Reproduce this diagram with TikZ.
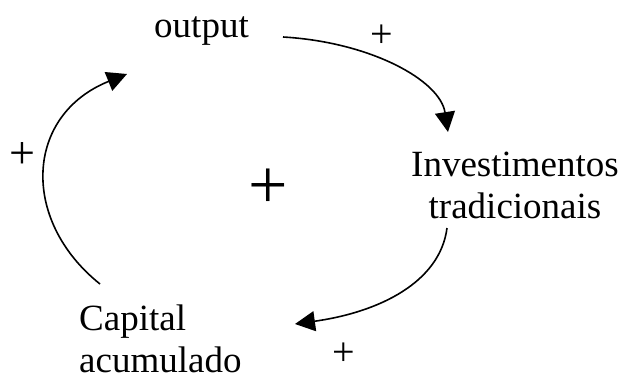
\documentclass[tikz,border=0pt]{standalone}
\usepackage{fontspec}
\setmainfont{Liberation Serif}
\usetikzlibrary{arrows.meta}
\begin{document}
\begin{tikzpicture}[x=1pt,y=-1pt,
  label text/.style={font=\fontsize{37}{41.5}\selectfont, inner sep=0pt},
  sign/.style={font=\fontsize{#1}{#1}\selectfont, inner sep=0pt},
  link/.style={line width=1.6pt, -{Triangle[length=20pt,width=20pt]}}]
  \useasboundingbox (0,0) rectangle (623,375);
  % variables of the loop
  \node[label text, anchor=base] (out) at (201.5,37) {output};
  \node[label text, anchor=north, align=center] (inv) at (515,152) {Investimentos\\tradicionais};
  \node[label text, anchor=north west, align=left] (cap) at (79,305) {Capital\\acumulado};
  % link polarities and loop polarity
  \node[sign=40] (p1) at (382,36) {+};
  \node[sign=40] (p2) at (344,354) {+};
  \node[sign=46] (p3) at (22,156) {+};
  \node[sign=70] (loop) at (268,189) {+};
  % end points of the causal links
  \coordinate (a0) at (283,37);
  \coordinate (a1) at (448,132);
  \coordinate (b0) at (447,228);
  \coordinate (b1) at (295,324);
  \coordinate (c0) at (100,284);
  \coordinate (c1) at (127,74);
  \draw[link] (a0) .. controls (370,42) and (440,80) .. (a1);
  \draw[link] (b0) .. controls (440,282) and (380,312) .. (b1);
  \draw[link] (c0) .. controls (20,220) and (25,115) .. (c1);
\end{tikzpicture}
\end{document}
